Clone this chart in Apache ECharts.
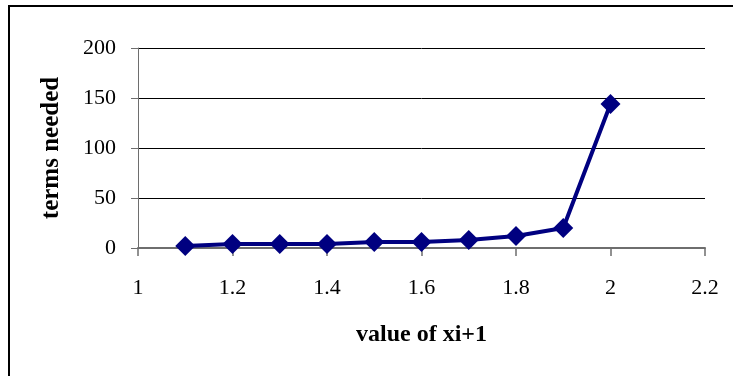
<!DOCTYPE html>
<html>
<head>
<meta charset="utf-8">
<script src="https://cdn.jsdelivr.net/npm/echarts@6/dist/echarts.min.js"></script>
<style>
  html, body { margin: 0; padding: 0; background: #fff; }
  #main { width: 733px; height: 376px; }
</style>
</head>
<body>
<div id="main"></div>
<script>
var xValues = [1.1, 1.2, 1.3, 1.4, 1.5, 1.6, 1.7, 1.8, 1.9, 2.0];
var termsNeeded = [2, 4, 4, 4, 6, 6, 8, 12, 20, 144];

var points = xValues.map(function (x, i) { return [x, termsNeeded[i]]; });

var chartDom = document.getElementById('main');
var myChart = echarts.init(chartDom);
var option;

option = {
  animation: false,
  textStyle: { fontFamily: 'Liberation Serif' },
  graphic: [
    {
      type: 'rect',
      shape: { x: 9, y: 6, width: 740, height: 390 },
      style: { fill: 'none', stroke: '#000', lineWidth: 2 }
    }
  ],
  grid: { left: 138, right: 28, top: 48, bottom: 128 },
  xAxis: {
    type: 'value',
    min: 1,
    max: 2.2,
    interval: 0.2,
    name: 'value of xi+1',
    nameLocation: 'middle',
    nameGap: 75,
    nameTextStyle: { fontSize: 24, fontWeight: 'bold', color: '#000', fontFamily: 'Liberation Serif' },
    axisLine: { lineStyle: { color: '#6e6e6e', width: 2 } },
    axisTick: { show: true, length: 8, inside: false, lineStyle: { color: '#6e6e6e', width: 1.5 } },
    axisLabel: { fontSize: 22, color: '#000', margin: 29, fontFamily: 'Liberation Serif',
      formatter: function (v) { return String(Math.round(v * 10) / 10); } },
    splitLine: { show: false }
  },
  yAxis: {
    type: 'value',
    min: 0,
    max: 200,
    interval: 50,
    name: 'terms needed',
    nameLocation: 'middle',
    nameGap: 74,
    nameTextStyle: { fontSize: 25, fontWeight: 'bold', color: '#000', fontFamily: 'Liberation Serif' },
    axisLine: { show: true, lineStyle: { color: '#6e6e6e', width: 1 } },
    axisTick: { show: true, length: 7, lineStyle: { color: '#6e6e6e' } },
    axisLabel: { fontSize: 22, color: '#000', margin: 22, fontFamily: 'Liberation Serif' },
    splitLine: { show: true, lineStyle: { color: '#000', width: 1 } }
  },
  series: [
    {
      type: 'line',
      data: points,
      symbol: 'diamond',
      symbolSize: 20,
      itemStyle: { color: '#000080' },
      lineStyle: { color: '#000080', width: 4 }
    }
  ]
};
option && myChart.setOption(option);
</script>
</body>
</html>
